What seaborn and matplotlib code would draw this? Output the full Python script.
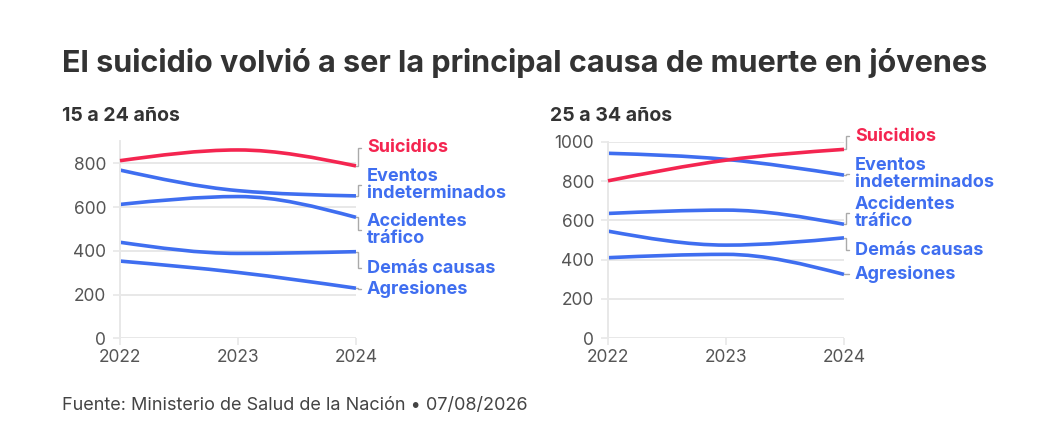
import numpy as np
import pandas as pd
import matplotlib
matplotlib.use("Agg")
import matplotlib.pyplot as plt
from matplotlib.path import Path
from matplotlib.patches import PathPatch
import seaborn as sns

# ---- data ----
years = [2022, 2023, 2024]
causes = ["Suicidios", "Eventos\nindeterminados", "Accidentes\ntráfico",
          "Demás causas", "Agresiones"]

# 15 a 24 años
g1_suicidios = [812, 861, 788]
g1_eventos = [769, 675, 651]
g1_accidentes = [612, 648, 553]
g1_demas = [439, 388, 396]
g1_agresiones = [353, 301, 229]

# 25 a 34 años
g2_suicidios = [801, 906, 961]
g2_eventos = [941, 910, 830]
g2_accidentes = [635, 652, 580]
g2_demas = [545, 474, 511]
g2_agresiones = [410, 427, 325]

groups = ["15 a 24 años", "25 a 34 años"]

rows = []
for grp, series in zip(groups, [
        [g1_suicidios, g1_eventos, g1_accidentes, g1_demas, g1_agresiones],
        [g2_suicidios, g2_eventos, g2_accidentes, g2_demas, g2_agresiones]]):
    for cause, vals in zip(causes, series):
        for yr, v in zip(years, vals):
            rows.append({"grupo": grp, "causa": cause, "anio": yr, "muertes": v})
df = pd.DataFrame(rows)

# ---- layout (label positions after de-overlapping, in data units) ----
label_y = {
    "15 a 24 años": [870, 701, 495, 321, 225],
    "25 a 34 años": [1028, 835, 637, 449, 326],
}
ylims = {"15 a 24 años": 900, "25 a 34 años": 1000}

RED = "#f42550"
BLUE = "#3f6ef0"
GRID = "#e8e8e8"
TXT = "#555555"

sns.set_theme(style="white")
plt.rcParams["font.family"] = ["Inter", "DejaVu Sans"]


def monotone_path(x, y):
    """Bezier path like d3.curveMonotoneX through the data points."""
    x = np.asarray(x, float)
    y = np.asarray(y, float)
    n = len(x)
    s = np.diff(y) / np.diff(x)
    t = np.zeros(n)
    for i in range(1, n - 1):
        h0, h1 = x[i] - x[i - 1], x[i + 1] - x[i]
        p = (s[i - 1] * h1 + s[i] * h0) / (h0 + h1)
        t[i] = (np.sign(s[i - 1]) + np.sign(s[i])) * min(abs(s[i - 1]), abs(s[i]), 0.5 * abs(p))
    t[0] = (3 * s[0] - t[1]) / 2
    t[-1] = (3 * s[-1] - t[-2]) / 2
    verts = [(x[0], y[0])]
    codes = [Path.MOVETO]
    for i in range(n - 1):
        dx = (x[i + 1] - x[i]) / 3
        verts += [(x[i] + dx, y[i] + dx * t[i]),
                  (x[i + 1] - dx, y[i + 1] - dx * t[i + 1]),
                  (x[i + 1], y[i + 1])]
        codes += [Path.CURVE4] * 3
    return Path(verts, codes)


W, H = 1064, 440
fig = plt.figure(figsize=(W / 100, H / 100), dpi=100)

ax_px = [(120, 338.3, 236, 900 * 0.21875), (608, 338.3, 236, 196.6)]

for grp, (left, base, w, h) in zip(groups, ax_px):
    ax = fig.add_axes([left / W, (H - base) / H, w / W, h / H])
    sub = df[df["grupo"] == grp]
    ymax = ylims[grp]
    ax.set_xlim(2022, 2024)
    ax.set_ylim(0, ymax)
    px = 2 / w  # one pixel in x data units

    for cause, ly in zip(causes, label_y[grp]):
        d = sub[sub["causa"] == cause]
        color = RED if cause == "Suicidios" else BLUE
        path = monotone_path(d["anio"], d["muertes"])
        ax.add_patch(PathPatch(path, fill=False, edgecolor=color, lw=2.6,
                               capstyle="butt", zorder=3 if cause == "Suicidios" else 2,
                               clip_on=False))
        yend = d["muertes"].iloc[-1]
        ax.plot([2024, 2024 + 2 * px, 2024 + 2 * px, 2024 + 5 * px],
                [yend, yend, ly, ly], color="#aaaaaa", lw=1, clip_on=False,
                solid_joinstyle="miter")
        ax.text(2024 + 11 * px, ly, cause, color=color, fontsize=13,
                fontweight="bold", va="center", ha="left", linespacing=0.95)

    ticks = list(range(0, ymax + 1, 200))
    ax.set_yticks(ticks)
    ax.set_xticks(years)
    ax.set_xticklabels([str(y) for y in years])
    ax.grid(axis="y", color=GRID, lw=1.4)
    ax.grid(axis="x", visible=False)
    sns.despine(ax=ax, top=True, right=True, bottom=True, left=False)
    ax.spines["left"].set_color(GRID)
    ax.spines["left"].set_linewidth(1.4)
    ax.tick_params(axis="both", colors=GRID, labelcolor=TXT, labelsize=12.5,
                   length=5, width=1.2, left=True, bottom=True)
    ax.tick_params(axis="y", pad=5)
    ax.tick_params(axis="x", pad=3)
    ax.set_xlabel("")
    ax.set_ylabel("")
    ax.set_facecolor("none")

    fig.text((left - 58) / W, 1 - 116 / H, grp, fontsize=14, fontweight="bold",
             color="#333333", va="center", ha="left")

fig.text(62 / W, 1 - 63 / H,
         "El suicidio volvió a ser la principal causa de muerte en jóvenes",
         fontsize=22, fontweight="bold", color="#333333", va="center", ha="left")
fig.text(62 / W, 1 - 405 / H,
         "Fuente: Ministerio de Salud de la Nación • 07/08/2026",
         fontsize=13, color="#444444", va="center", ha="left")

fig.savefig("out.png", dpi=100, facecolor="white")
